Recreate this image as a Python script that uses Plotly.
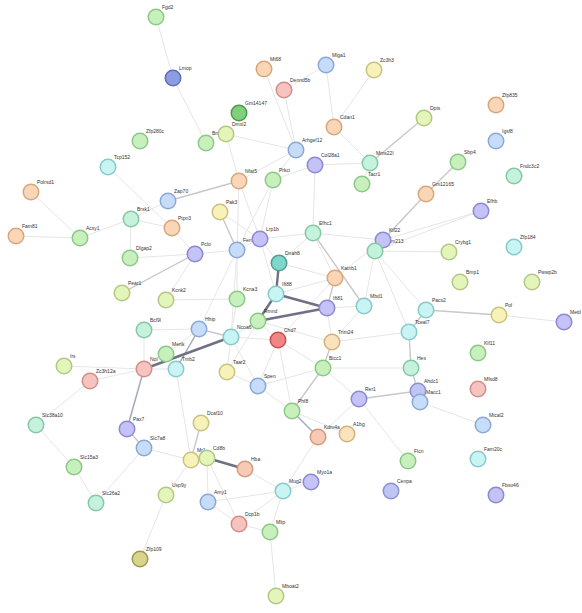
import plotly.graph_objects as go

# ---- network nodes: name, layout position (px), colour group ----
names = ["Fgd2", "Lmop", "Mt68", "Mlga1", "Zc3h3", "Dennd5b", "Gm14147", "Dmxl2", "Bmx", "Cdan1",
         "Dpts", "Zfp835", "Igsf8", "Zfp280c", "Arhgef12", "Col28a1", "Mms22l", "Sbp4", "Fndc3c2", "Tcp152",
         "Polrsd1", "Fam81", "Acsy1", "Brsk1", "Zap70", "Ptpn3", "Nfat5", "Prkci", "Tacr1", "Gm12165",
         "Efhb", "Pak3", "Lrp1b", "Fen", "Pclo", "Dlgap2", "Efhc1", "Kif22", "Tmem213", "Zfp184",
         "Crybg1", "Dnah8", "Katnb1", "Bmp1", "Pwwp2b", "Pear1", "Kcnk2", "Kcna3", "Ift88", "Ift81",
         "Mbd1", "Pacs2", "Pol", "Mettl", "Tceal7", "Bcl9l", "Hhip", "Ncoa6", "Rmnd", "Chd7",
         "Trim24", "Mertk", "Irs", "Zc3h12a", "Nol", "Tmb2", "Taar2", "Bicc1", "Hes", "Klf11",
         "Spen", "Rer1", "Ahdc1", "Macc1", "Mfsd8", "Slc38a10", "Pax7", "Phf8", "Dcaf10", "Kdm4a",
         "A1bg", "Mical2", "Slc7a8", "Cd8b", "Mr1", "Hba", "Flcn", "Fam20c", "Slc15a3", "Myo1a",
         "Mug2", "Cenpa", "Fbxo46", "Usp9y", "Slc26a2", "Amy1", "Dcp1b", "Mlip", "Zfp109", "Mboat2"]

node_x = [156, 173, 264, 326, 374, 284, 239, 226, 206, 334,
          424, 496, 496, 140, 296, 315, 370, 458, 514, 108,
          31, 16, 80, 131, 168, 172, 239, 273, 362, 426,
          481, 220, 260, 237, 195, 130, 313, 383, 375, 514,
          449, 279, 335, 460, 532, 122, 166, 237, 276, 327,
          364, 426, 499, 564, 409, 144, 199, 231, 258, 278,
          332, 166, 64, 90, 144, 176, 227, 323, 411, 478,
          258, 359, 418, 420, 478, 36, 127, 292, 201, 318,
          347, 483, 144, 207, 191, 245, 408, 478, 74, 311,
          283, 391, 496, 166, 96, 208, 239, 270, 140, 276]

node_y = [17, 78, 69, 65, 70, 90, 113, 134, 143, 127,
          118, 105, 141, 141, 150, 165, 163, 162, 176, 167,
          192, 236, 238, 219, 201, 228, 181, 180, 184, 194,
          211, 212, 239, 250, 254, 258, 233, 240, 251, 247,
          252, 263, 278, 282, 282, 293, 300, 299, 294, 308,
          306, 310, 315, 322, 332, 330, 329, 337, 321, 340,
          342, 354, 366, 381, 369, 369, 372, 368, 368, 353,
          386, 399, 391, 402, 389, 425, 429, 411, 423, 437,
          434, 425, 448, 458, 460, 469, 461, 459, 467, 482,
          491, 491, 495, 495, 503, 502, 524, 532, 559, 596]

groups = ["G", "LD", "P", "B", "Y", "R", "GD", "YG", "G", "P",
          "YG", "P", "B", "G", "B", "L", "M", "G", "M", "C",
          "P", "P", "G", "M", "B", "P", "P", "G", "G", "P",
          "L", "Y", "L", "B", "L", "G", "M", "L", "M", "C",
          "YG", "TD", "P", "YG", "YG", "YG", "YG", "G", "C", "L",
          "C", "C", "Y", "L", "C", "M", "B", "C", "G", "RD",
          "PY", "G", "YG", "R", "R", "C", "Y", "G", "M", "G",
          "B", "L", "BL", "B", "R", "M", "L", "G", "Y", "PR",
          "PY", "B", "B", "YG", "Y", "PR", "G", "C", "G", "L",
          "C", "BL", "L", "YG", "M", "B", "R", "G", "OL", "YG"]

# ---- interactions, by evidence strength ----
edges_faint = [
    ("Fgd2", "Lmop"), ("Lmop", "Bmx"), ("Mt68", "Arhgef12"), ("Dennd5b", "Arhgef12"),
    ("Dennd5b", "Mlga1"), ("Mlga1", "Cdan1"), ("Cdan1", "Mms22l"), ("Zc3h3", "Cdan1"),
    ("Mms22l", "Col28a1"), ("Mms22l", "Tacr1"), ("Efhb", "Kif22"), ("Efhb", "Tmem213"),
    ("Crybg1", "Tmem213"), ("Tmem213", "Pacs2"), ("Kif22", "Efhc1"), ("Efhc1", "Dnah8"),
    ("Efhc1", "Col28a1"), ("Arhgef12", "Prkci"), ("Arhgef12", "Nfat5"), ("Dmxl2", "Nfat5"),
    ("Dmxl2", "Arhgef12"), ("Nfat5", "Fen"), ("Nfat5", "Lrp1b"), ("Prkci", "Fen"),
    ("Pak3", "Lrp1b"), ("Zap70", "Brsk1"), ("Acsy1", "Brsk1"), ("Polrsd1", "Acsy1"),
    ("Fam81", "Acsy1"), ("Tcp152", "Ptpn3"), ("Brsk1", "Ptpn3"), ("Brsk1", "Dlgap2"),
    ("Ptpn3", "Pclo"), ("Dlgap2", "Pclo"), ("Kcnk2", "Pclo"), ("Kcnk2", "Kcna3"),
    ("Pclo", "Fen"), ("Fen", "Lrp1b"), ("Fen", "Kcna3"), ("Fen", "Ncoa6"), ("Fen", "Hhip"),
    ("Lrp1b", "Dnah8"), ("Lrp1b", "Ift88"), ("Dnah8", "Katnb1"), ("Katnb1", "Ift88"),
    ("Mbd1", "Trim24"), ("Mbd1", "Tmem213"), ("Trim24", "Ift81"), ("Bicc1", "Hes"),
    ("Phf8", "Chd7"), ("Phf8", "A1bg"), ("Phf8", "Spen"), ("Chd7", "Ncoa6"), ("Chd7", "Rmnd"),
    ("Spen", "Ncoa6"), ("Spen", "Taar2"), ("Taar2", "Ncoa6"), ("Taar2", "Rmnd"),
    ("Bcl9l", "Nol"), ("Mertk", "Nol"), ("Mertk", "Hhip"), ("Mertk", "Tmb2"), ("Tmb2", "Nol"),
    ("Tmb2", "Mr1"), ("Irs", "Nol"), ("Zc3h12a", "Nol"), ("Zc3h12a", "Slc38a10"),
    ("Slc38a10", "Slc15a3"), ("Slc7a8", "Slc26a2"), ("Slc7a8", "Mr1"), ("Slc15a3", "Slc26a2"),
    ("Mr1", "Cd8b"), ("Mr1", "Usp9y"), ("Usp9y", "Zfp109"), ("Cd8b", "Dcp1b"),
    ("Hba", "Mug2"), ("Mug2", "Mlip"), ("Amy1", "Dcp1b"), ("Dcp1b", "Mlip"), ("Mlip", "Mboat2"),
    ("Amy1", "Mug2"), ("Dcp1b", "Mug2"), ("Mug2", "Kdm4a"), ("Rer1", "Kdm4a"),
    ("Pol", "Mettl"), ("Macc1", "Mical2"), ("Ahdc1", "Macc1"), ("Rer1", "Flcn"),
    ("Tceal7", "Trim24"), ("Tmem213", "Tceal7"), ("Kif22", "Katnb1"), ("Ncoa6", "Rmnd"),
    ("Hhip", "Bcl9l"), ("Cd8b", "Amy1"), ("Mug2", "Myo1a"), ("Rer1", "Bicc1"),
    ("Prkci", "Lrp1b"), ("Col28a1", "Prkci"), ("Efhc1", "Katnb1"), ("Spen", "Chd7"),
    ("Bicc1", "Chd7"), ("Ift81", "Mbd1"), ("Efhc1", "Lrp1b"), ("Kcna3", "Ncoa6"),
    ("Katnb1", "Chd7"), ("Trim24", "Rmnd"), ("Spen", "Bicc1"),
]

edges_medium = [
    ("Dpts", "Mms22l"), ("Sbp4", "Gm12165"), ("Gm12165", "Kif22"), ("Efhc1", "Mbd1"),
    ("Nfat5", "Zap70"), ("Pak3", "Fen"), ("Pear1", "Pclo"), ("Katnb1", "Ift81"),
    ("Trim24", "Bicc1"), ("Bicc1", "Phf8"), ("Pacs2", "Pol"), ("Pacs2", "Tceal7"),
    ("Tceal7", "Hes"), ("Hes", "Ahdc1"), ("Rer1", "Ahdc1"), ("Mr1", "Dcaf10"),
    ("Pax7", "Slc7a8"), ("Hhip", "Ncoa6"),
]

edges_bluegray = [
    ("Phf8", "Kdm4a"), ("Nol", "Pax7"), ("Hhip", "Tmb2"),
]

edges_strong = [
    ("Dnah8", "Ift88"), ("Ift88", "Ift81"), ("Ift88", "Rmnd"), ("Rmnd", "Ift81"),
    ("Nol", "Ncoa6"), ("Cd8b", "Hba"),
]

# ---- colour groups: (fill, outline) ----
palette = {
    "G": ("#c8f0bc", "#8cc888"), "GD": ("#7fd07c", "#4c9a4a"),
    "P": ("#fad6b6", "#d6a77c"), "PY": ("#f9e2bc", "#d1b27e"), "PR": ("#f8c9b4", "#d39a80"),
    "B": ("#c6dcf8", "#8ba9d6"), "BL": ("#c0c6f4", "#8a92d0"),
    "L": ("#c4c2f6", "#8c89d2"), "LD": ("#8e9ce2", "#5f6db5"),
    "Y": ("#f6f2b8", "#c9c282"), "YG": ("#e4f5ba", "#b3c886"),
    "M": ("#c4f2dc", "#86c8a6"), "C": ("#c8f4f4", "#88c9c9"), "TD": ("#80d6c8", "#4d9e92"),
    "R": ("#f6c3bf", "#d18f8a"), "RD": ("#f08684", "#c4504f"), "OL": ("#d8d48c", "#9f9a52"),
}

pos = {n: (x, y) for n, x, y in zip(names, node_x, node_y)}


def edge_trace(edge_list, color, width):
    xs, ys = [], []
    for a, b in edge_list:
        xs += [pos[a][0], pos[b][0], None]
        ys += [pos[a][1], pos[b][1], None]
    return go.Scatter(x=xs, y=ys, mode="lines", line=dict(color=color, width=width),
                      hoverinfo="skip", showlegend=False)


fig = go.Figure()
fig.add_trace(edge_trace(edges_faint, "#e6e6e6", 1))
fig.add_trace(edge_trace(edges_medium, "#c8c8c8", 1.4))
fig.add_trace(edge_trace(edges_bluegray, "#a4a8bc", 1.5))
fig.add_trace(edge_trace(edges_strong, "#6f7084", 2.4))

# labels sit to the upper right of each node, beneath the node layer
fig.add_trace(go.Scatter(
    x=[x + 6 for x in node_x], y=[y - 9 for y in node_y], mode="text", text=names,
    textposition="middle right", textfont=dict(size=5, color="#333333", family="Liberation Sans, Arial"),
    hoverinfo="skip", showlegend=False, cliponaxis=False))

fig.add_trace(go.Scatter(
    x=node_x, y=node_y, mode="markers", text=names, hoverinfo="text",
    marker=dict(size=15.5, color=[palette[g][0] for g in groups],
                line=dict(color=[palette[g][1] for g in groups], width=1.5)),
    showlegend=False, cliponaxis=False))

fig.update_layout(
    width=582, height=613, margin=dict(l=0, r=0, t=0, b=0),
    paper_bgcolor="white", plot_bgcolor="white",
    xaxis=dict(range=[0, 582], visible=False, fixedrange=True),
    yaxis=dict(range=[613, 0], visible=False, fixedrange=True),
)

fig.write_html("out.html")
